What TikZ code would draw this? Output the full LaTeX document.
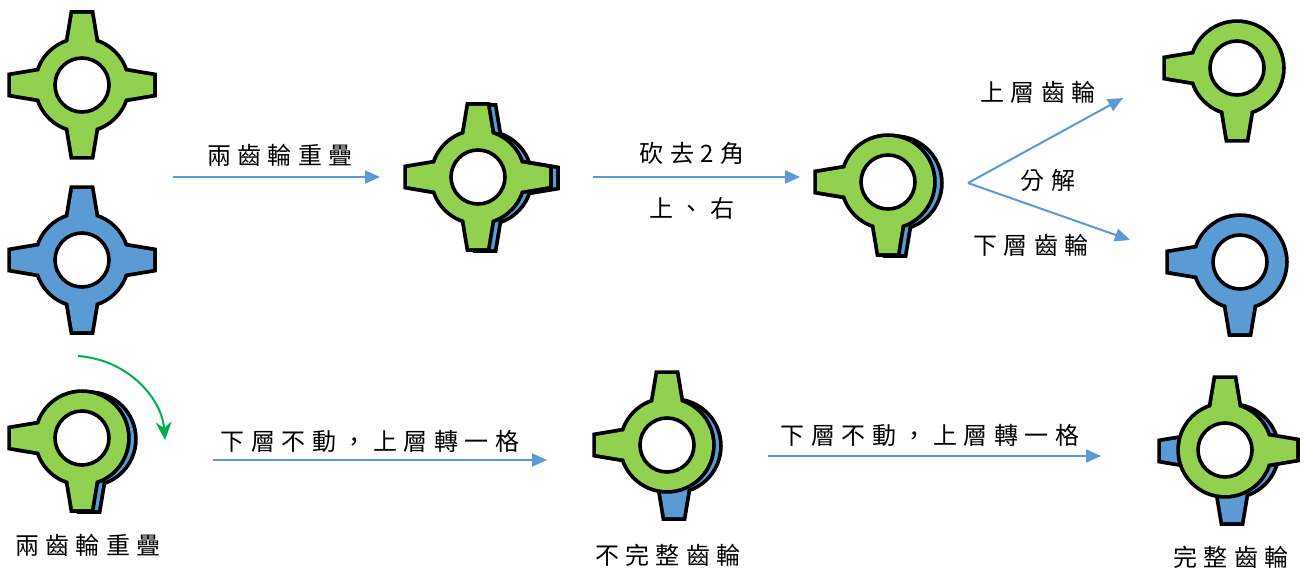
\documentclass[tikz,border=0pt]{standalone}
\usepackage{fontspec}
\usetikzlibrary{arrows.meta}
\newfontfamily\cjk[LetterSpace=27]{Noto Sans CJK TC}
\definecolor{geargreen}{HTML}{92D050}
\definecolor{gearblue}{HTML}{5B9BD5}
\definecolor{flowblue}{HTML}{5B9BD5}
\definecolor{turngreen}{HTML}{00B050}

% one gear: #1 centre, #2 colour, #3 list of tooth directions (degrees)
\newcommand\drawgear[3]{%
  \begin{scope}[shift={#1}]
    \foreach \a in {#3} {\draw[rotate=\a, line width=7.5pt, line join=miter]
      (35,-15) -- (71,-9) -- (71,9) -- (35,15) -- cycle;}
    \draw[line width=7.5pt] (0,0) circle (45);
    \foreach \a in {#3} {\fill[#2, rotate=\a]
      (35,-15) -- (71,-9) -- (71,9) -- (35,15) -- cycle;}
    \fill[#2] (0,0) circle (45);
    \draw[line width=3.6pt, fill=white] (0,0) circle (27);
  \end{scope}}

\tikzset{
  flow/.style={draw=flowblue, line width=2pt, -{Triangle[length=15pt,width=13pt]}},
  turn/.style={draw=turngreen, line width=2pt, -{Stealth[length=18pt,width=16pt,inset=6pt]}},
  lbl/.style={font=\cjk\fontsize{24pt}{28pt}\selectfont, inner sep=0pt, text=black},
}

\begin{document}
\begin{tikzpicture}[x=1pt, y=-1pt]
  \useasboundingbox (0,0) rectangle (1305,572);

  % the two separate gears
  \drawgear{(82,85)}{geargreen}{0,90,180,270}
  \drawgear{(82,260)}{gearblue}{0,90,180,270}

  % stacked gears
  \drawgear{(485,178)}{gearblue}{0,90,180,270}
  \drawgear{(478,177)}{geargreen}{0,90,180,270}

  % stacked gears with two teeth cut away
  \drawgear{(895,183)}{gearblue}{180,270}
  \drawgear{(888,182)}{geargreen}{180,270}

  % split into upper and lower gear
  \drawgear{(1237,68)}{geargreen}{180,270}
  \drawgear{(1240,262)}{gearblue}{180,270}

  % bottom row: overlap, one turn, two turns
  \drawgear{(89,439)}{gearblue}{180,270}
  \drawgear{(82,438)}{geargreen}{180,270}

  \drawgear{(674,446)}{gearblue}{180,270}
  \drawgear{(667,445)}{geargreen}{180,90}

  \drawgear{(1232,451)}{gearblue}{180,270}
  \drawgear{(1225,450)}{geargreen}{90,0}

  % arrow end points
  \coordinate (a1s) at (173,177);  \coordinate (a1e) at (380,177);
  \coordinate (a2s) at (593,177);  \coordinate (a2e) at (800,177);
  \coordinate (fork) at (968,183);
  \coordinate (upe) at (1123,98);  \coordinate (dne) at (1130,240);
  \coordinate (a5s) at (213,460);  \coordinate (a5e) at (547,460);
  \coordinate (a6s) at (768,456);  \coordinate (a6e) at (1101,456);
  \coordinate (ts) at (78,356);    \coordinate (te) at (165,440);

  \draw[flow] (a1s) -- (a1e);
  \draw[flow] (a2s) -- (a2e);
  \draw[flow] (fork) -- (upe);
  \draw[flow] (fork) -- (dne);
  \draw[flow] (a5s) -- (a5e);
  \draw[flow] (a6s) -- (a6e);
  \draw[turn] (ts) .. controls (130,360) and (162,400) .. (te);

  % labels
  \node[lbl] (t1) at (280,155) {兩齒輪重疊};
  \node[lbl] (t2) at (692,153) {砍去2角};
  \node[lbl] (t3) at (692,208) {上、右};
  \node[lbl] (t4) at (1038,92) {上層齒輪};
  \node[lbl] (t5) at (1048,180) {分解};
  \node[lbl] (t6) at (1031,245) {下層齒輪};
  \node[lbl] (t7) at (370,441) {下層不動，上層轉一格};
  \node[lbl] (t8) at (930,435) {下層不動，上層轉一格};
  \node[lbl] (t9) at (88,545) {兩齒輪重疊};
  \node[lbl] (t10) at (668,555) {不完整齒輪};
  \node[lbl] (t11) at (1231,557) {完整齒輪};
\end{tikzpicture}
\end{document}
